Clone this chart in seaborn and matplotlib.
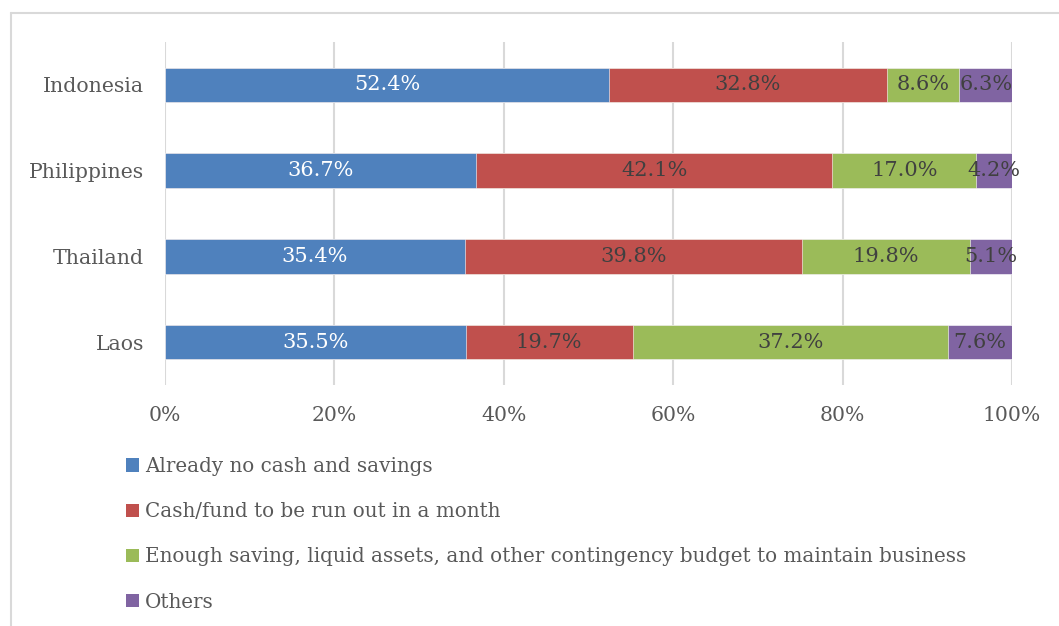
import matplotlib
matplotlib.use("Agg")
import matplotlib.pyplot as plt
import seaborn as sns
import pandas as pd
import numpy as np
from matplotlib.patches import Patch
from matplotlib.lines import Line2D

countries = ["Indonesia", "Philippines", "Thailand", "Laos"]
series_names = [
    "Already no cash and savings",
    "Cash/fund to be run out in a month",
    "Enough saving, liquid assets, and other contingency budget to maintain business",
    "Others",
]
no_cash = [52.4, 36.7, 35.4, 35.5]
run_out = [32.8, 42.1, 39.8, 19.7]
enough = [8.6, 17.0, 19.8, 37.2]
others = [6.3, 4.2, 5.1, 7.6]
colors = ["#4F81BD", "#C0504D", "#9BBB59", "#8064A2"]
label_colors = ["white", "#404040", "#404040", "#404040"]
xticks = [0, 20, 40, 60, 80, 100]

sns.set_theme(style="white")
FONT = "DejaVu Serif"
plt.rcParams["font.family"] = [FONT]

fig = plt.figure(figsize=(10.59, 6.26), dpi=100)
ax = fig.add_axes([165 / 1059, 1 - 385 / 626, (1012 - 165) / 1059, (385 - 42) / 626])

values = [no_cash, run_out, enough, others]
cum = np.cumsum(np.array(values), axis=0)
df = pd.DataFrame({"country": countries})
for i in range(3, -1, -1):
    df["v"] = cum[i]
    sns.barplot(data=df, x="v", y="country", orient="h", color=colors[i],
                saturation=1, width=0.4, ax=ax, edgecolor="white", linewidth=0.4)

for i in range(4):
    for j in range(len(countries)):
        start = cum[i][j] - values[i][j]
        ax.text(start + values[i][j] / 2, j, f"{values[i][j]:.1f}%",
                ha="center", va="center", fontsize=15, color=label_colors[i])

ax.set_xlim(0, 100)
ax.set_ylim(3.5, -0.5)
ax.set_xticks(xticks)
ax.set_xticklabels([f"{t}%" for t in xticks])
ax.xaxis.grid(True, color="#D9D9D9", linewidth=1.5)
ax.set_axisbelow(True)
for s in ax.spines.values():
    s.set_visible(False)
ax.tick_params(axis="x", length=0, pad=15, labelsize=14.7, labelcolor="#595959")
ax.tick_params(axis="y", length=0, pad=15, labelsize=14.7, labelcolor="#595959")
ax.set_xlabel("")
ax.set_ylabel("")

handles = [Patch(facecolor=c, edgecolor="none") for c in colors]
fig.legend(handles, series_names, loc="upper left",
           bbox_to_anchor=(126 / 1059, 1 - 457 / 626), frameon=False,
           fontsize=14.3, labelcolor="#595959", handlelength=0.65, handleheight=0.65,
           handletextpad=0.3, labelspacing=1.32, borderpad=0, borderaxespad=0)

fig.add_artist(Line2D([11 / 1059, 11 / 1059], [0, 1 - 13 / 626], transform=fig.transFigure,
                      color="#D9D9D9", linewidth=1.5))
fig.add_artist(Line2D([11 / 1059, 1], [1 - 13 / 626, 1 - 13 / 626], transform=fig.transFigure,
                      color="#D9D9D9", linewidth=1.5))

fig.savefig("out.png", dpi=100)
